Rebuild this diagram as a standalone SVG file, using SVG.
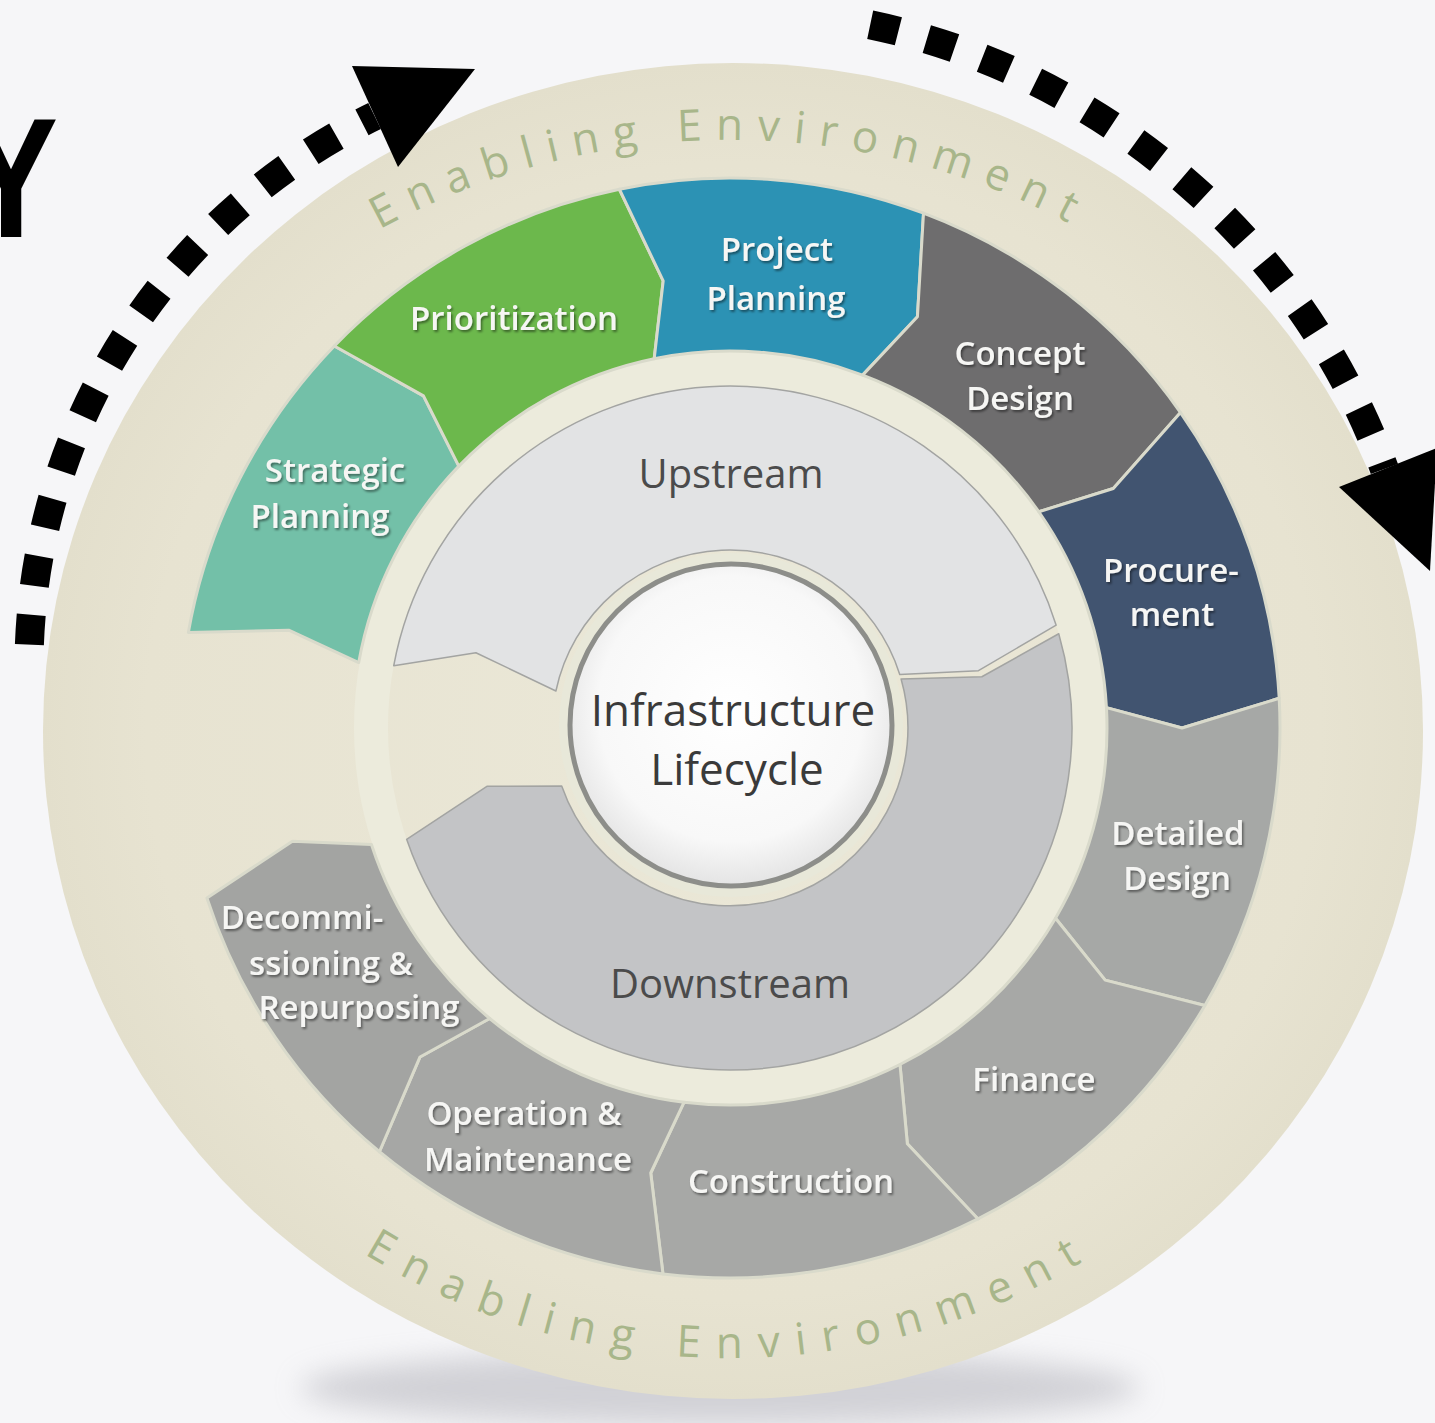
<svg xmlns="http://www.w3.org/2000/svg" width="1435" height="1423" viewBox="0 0 1435 1423">
<defs>
<style>
.seg{stroke:#d9dacb;stroke-width:3;stroke-linejoin:round}
.lbl{font-family:"Open Sans","Noto Sans","DejaVu Sans",sans-serif;font-weight:600;font-size:33px;fill:#f6f6f4;text-anchor:middle}
.dark{font-family:"Open Sans","Noto Sans","DejaVu Sans",sans-serif;font-size:40px;fill:#4b4b4b;text-anchor:middle}
.ctr{font-family:"Open Sans","Noto Sans","DejaVu Sans",sans-serif;font-size:44px;fill:#3a3a3a;text-anchor:middle}
.env{font-family:"Open Sans","Noto Sans","DejaVu Sans",sans-serif;font-size:44px;fill:#a8b68a}
.dash{fill:none;stroke:#000;stroke-width:29}
.band{stroke:#a3a4a2;stroke-width:1.5;stroke-linejoin:round}
</style>
<filter id="ts" x="-10%" y="-30%" width="125%" height="170%">
<feDropShadow dx="1.5" dy="2" stdDeviation="1.3" flood-color="#000" flood-opacity="0.45"/>
</filter>
<filter id="blur" x="-20%" y="-100%" width="140%" height="300%">
<feGaussianBlur stdDeviation="14"/>
</filter>
<radialGradient id="wg" cx="50%" cy="45%" r="55%">
<stop offset="0" stop-color="#ffffff"/>
<stop offset="0.75" stop-color="#f8f8f8"/>
<stop offset="1" stop-color="#e4e4e4"/>
</radialGradient>
<radialGradient id="disc" cx="50%" cy="50%" r="50%">
<stop offset="0" stop-color="#ebe8d8"/>
<stop offset="0.85" stop-color="#e7e3d1"/>
<stop offset="1" stop-color="#e3dfcc"/>
</radialGradient>
<path id="topArc" d="M109.8,526.9 A660,588 0 0 1 1350.2,526.9"/>
<path id="botArc" d="M106.05,943.47 A664,630 0 0 0 1353.95,943.47"/>
</defs>

<rect x="0" y="0" width="1435" height="1423" fill="#f6f6f8"/>

<text transform="translate(-36,237) scale(0.83,1)" font-family="Liberation Sans, Arial, sans-serif" font-weight="bold" font-size="170" fill="#000">Y</text>

<g id="disc-base">
<ellipse cx="720" cy="1388" rx="420" ry="38" fill="#b4b4bb" opacity="0.55" filter="url(#blur)"/>
<ellipse cx="733" cy="731" rx="690" ry="668" fill="url(#disc)"/>
<circle cx="730" cy="728" r="359" fill="none" stroke="#ecebdc" stroke-width="34"/>
</g>

<g id="enabling-environment-top">
<text class="env" letter-spacing="14"><textPath href="#topArc" startOffset="50%" text-anchor="middle">Enabling Environment</textPath></text>
</g>
<g id="enabling-environment-bottom">
<text class="env" letter-spacing="16"><textPath href="#botArc" startOffset="50%" text-anchor="middle">Enabling Environment</textPath></text>
</g>

<g id="strategic-planning">
<path class="seg" fill="#73c0a8" d="M188.35,632.49 A550,550 0 0 1 334.36,345.94 L423.48,395.82 L458.81,466.11 A377,377 0 0 0 358.73,662.53 L288.71,630.17 Z"/>
<text class="lbl" filter="url(#ts)" x="335" y="482">Strategic</text>
<text class="lbl" filter="url(#ts)" x="320" y="528">Planning</text>
</g>
<g id="prioritization">
<path class="seg" fill="#6cb84c" d="M334.36,345.94 A550,550 0 0 1 619.41,189.23 L663.19,280.96 L654.19,358.71 A377,377 0 0 0 458.81,466.11 L423.48,395.82 Z"/>
<text class="lbl" filter="url(#ts)" x="514" y="330">Prioritization</text>
</g>
<g id="project-planning">
<path class="seg" fill="#2c92b4" d="M619.41,189.23 A550,550 0 0 1 923.51,213.17 L917.44,316.7 L862.64,375.11 A377,377 0 0 0 654.19,358.71 L663.19,280.96 Z"/>
<text class="lbl" filter="url(#ts)" x="777" y="261">Project</text>
<text class="lbl" filter="url(#ts)" x="776" y="310">Planning</text>
</g>
<g id="concept-design">
<path class="seg" fill="#6e6d6e" d="M923.51,213.17 A550,550 0 0 1 1180.53,412.53 L1113.32,488.48 L1038.82,511.76 A377,377 0 0 0 862.64,375.11 L917.44,316.7 Z"/>
<text class="lbl" filter="url(#ts)" x="1020" y="365">Concept</text>
<text class="lbl" filter="url(#ts)" x="1020" y="410">Design</text>
</g>
<g id="procurement">
<path class="seg" fill="#415470" d="M1180.53,412.53 A550,550 0 0 1 1279.2,698.26 L1182,728 L1106.45,707.61 A377,377 0 0 0 1038.82,511.76 L1113.32,488.48 Z"/>
<text class="lbl" filter="url(#ts)" x="1171" y="582">Procure-</text>
<text class="lbl" filter="url(#ts)" x="1172" y="626">ment</text>
</g>
<g id="detailed-design">
<path class="seg" fill="#a6a8a6" d="M1279.2,698.26 A550,550 0 0 1 1204.87,1005.49 L1105.17,980.1 L1055.5,918.21 A377,377 0 0 0 1106.45,707.61 L1182,728 Z"/>
<text class="lbl" filter="url(#ts)" x="1178" y="845">Detailed</text>
<text class="lbl" filter="url(#ts)" x="1177" y="890">Design</text>
</g>
<g id="finance">
<path class="seg" fill="#a7a8a6" d="M1204.87,1005.49 A550,550 0 0 1 977.98,1218.92 L907.34,1143.76 L899.98,1064.51 A377,377 0 0 0 1055.5,918.21 L1105.17,980.1 Z"/>
<text class="lbl" filter="url(#ts)" x="1034" y="1091">Finance</text>
</g>
<g id="construction">
<path class="seg" fill="#a7a8a6" d="M977.98,1218.92 A550,550 0 0 1 662.97,1273.9 L650.73,1173 L684.06,1102.19 A377,377 0 0 0 899.98,1064.51 L907.34,1143.76 Z"/>
<text class="lbl" filter="url(#ts)" x="791" y="1193">Construction</text>
</g>
<g id="operation-maintenance">
<path class="seg" fill="#a6a7a5" d="M662.97,1273.9 A550,550 0 0 1 379.42,1151.78 L420,1056.96 L489.69,1018.48 A377,377 0 0 0 684.06,1102.19 L650.73,1173 Z"/>
<text class="lbl" filter="url(#ts)" x="524" y="1125">Operation &amp;</text>
<text class="lbl" filter="url(#ts)" x="528" y="1171">Maintenance</text>
</g>
<g id="decommissioning">
<path class="seg" fill="#a3a4a2" d="M379.42,1151.78 A550,550 0 0 1 206.92,897.96 L292.4,841.17 L371.45,844.5 A377,377 0 0 0 489.69,1018.48 L420,1056.96 Z"/>
<text class="lbl" filter="url(#ts)" x="302" y="929">Decommi-</text>
<text class="lbl" filter="url(#ts)" x="331" y="975">ssioning &amp;</text>
<text class="lbl" filter="url(#ts)" x="359" y="1019">Repurposing</text>
</g>

<g id="upstream">
<path class="band" fill="#e2e3e4" d="M393.73,665.67 A342,342 0 0 1 1056.17,625.16 L978.46,670.64 L899.76,674.47 A178,178 0 0 0 555.89,690.99 L475.91,652.73 Z"/>
<text class="dark" x="731" y="488">Upstream</text>
</g>
<g id="downstream">
<path class="band" fill="#c3c4c6" d="M1058.75,633.73 A342,342 0 0 1 406.63,839.35 L486.91,786.36 L561.7,785.95 A178,178 0 0 0 901.1,678.94 L981.84,676.76 Z"/>
<text class="dark" x="730" y="998">Downstream</text>
</g>

<g id="infrastructure-lifecycle">
<circle cx="731" cy="725" r="172" fill="#e8e8d9"/>
<circle cx="731" cy="725" r="161" fill="url(#wg)" stroke="#8d8e8a" stroke-width="5"/>
<text class="ctr" x="733" y="726">Infrastructure</text>
<text class="ctr" x="737" y="785">Lifecycle</text>
</g>

<g id="connectors">
<path class="dash" stroke-dasharray="30 29" d="M29.4,644.6 A612,612 0 0 1 374.6,116"/>
<polygon points="352,66 475,69 398,167" fill="#000"/>
<path class="dash" stroke-dasharray="29 29.5" d="M870.2,24.7 A702.4,702.4 0 0 1 1384.4,469"/>
<polygon points="1339,487 1437,448 1430,571" fill="#000"/>
</g>
</svg>
